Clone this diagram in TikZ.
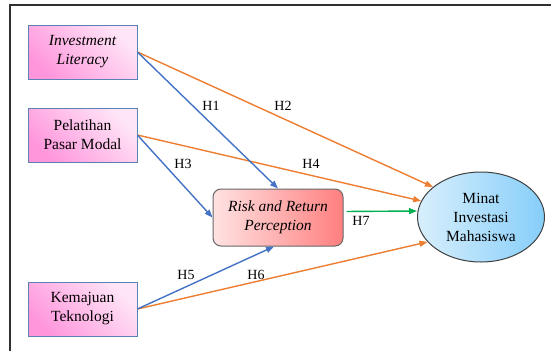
\documentclass[tikz,border=0pt]{standalone}
\usepackage{fontspec}
\setmainfont{Liberation Serif}
\usetikzlibrary{shapes.geometric,arrows.meta}
\definecolor{orng}{HTML}{ED7D31}
\definecolor{blu}{HTML}{4472C4}
\definecolor{grn}{HTML}{00B050}
\definecolor{pinkL}{HTML}{FFE6F7}
\definecolor{pinkD}{HTML}{FF96DC}
\definecolor{boxborder}{HTML}{5A82B4}
\definecolor{redL}{HTML}{FFE2E2}
\definecolor{redD}{HTML}{FF7F7F}
\definecolor{bluL}{HTML}{D8EFFC}
\definecolor{bluD}{HTML}{86CEFA}
\definecolor{framec}{HTML}{303030}
\begin{document}
\begin{tikzpicture}[x=1pt,y=-1pt,
  txt/.style={font=\rmfamily\fontsize{15.5}{19}\selectfont, align=center},
  pinkbox/.style={txt, draw=boxborder, line width=0.8pt, minimum width=109pt, minimum height=54pt,
    inner sep=2pt, top color=pinkL, bottom color=pinkD, shading angle=-45},
  rrpbox/.style={txt, draw=black!60, line width=1pt, rounded corners=8pt, minimum width=130pt,
    minimum height=57pt, inner sep=2pt, left color=redL, right color=redD},
  ellnode/.style={txt, ellipse, draw=black!75, line width=1pt, minimum width=127pt,
    minimum height=90pt, inner sep=0pt, left color=bluL, right color=bluD},
  arr/.style={line width=1.4pt, -{Triangle[length=8pt,width=6pt]}},
  lab/.style={font=\rmfamily\fontsize{14}{16}\selectfont, inner sep=1pt}
]
\useasboundingbox (0,0) rectangle (551,351);
\draw[framec, line width=1.5pt] (10,351) -- (10,5) -- (551,5);

\node[pinkbox] (IL) at (82.5,52) {\itshape Investment\\\itshape Literacy};
\node[pinkbox] (PPM) at (82.5,135) {Pelatihan\\Pasar Modal};
\node[pinkbox] (KT) at (82.5,309) {Kemajuan\\Teknologi};
\node[rrpbox] (RRP) at (278,217.5) {\itshape Risk and Return\\\itshape Perception};
\node[ellnode] (M) at (481,217) {Minat\\Investasi\\Mahasiswa};

\draw[arr,orng] (IL.east) -- (M.148);
\draw[arr,orng] (PPM.east) -- (M.165);
\draw[arr,orng] (KT.east) -- (M.205);
\draw[arr,blu] (IL.east) -- (RRP.north);
\draw[arr,blu] (PPM.east) -- (RRP.west);
\draw[arr,blu] (KT.east) -- ([xshift=-4pt]RRP.south);
\draw[arr,grn,shorten <=3pt] ([yshift=6pt]RRP.east) -- ([yshift=6pt]M.west);

\node[lab] (h1) at (211,106) {H1};
\node[lab] (h2) at (283,106) {H2};
\node[lab] (h3) at (183,164) {H3};
\node[lab] (h4) at (311,164) {H4};
\node[lab] (h5) at (186,275) {H5};
\node[lab] (h6) at (256,275) {H6};
\node[lab] (h7) at (361,221) {H7};
\end{tikzpicture}
\end{document}
